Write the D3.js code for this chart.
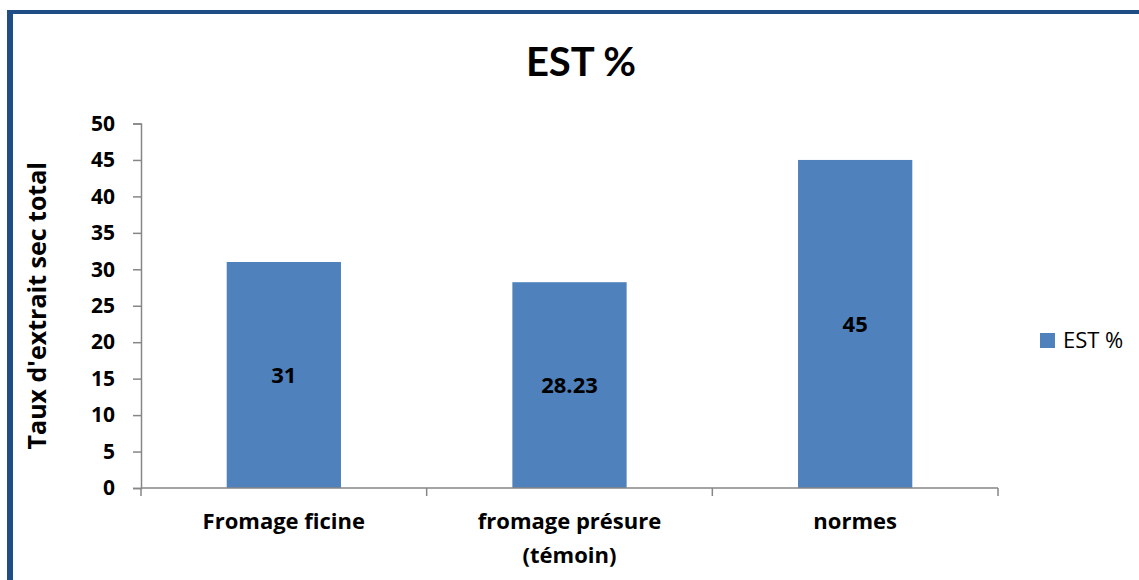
<!DOCTYPE html>
<html>
<head>
<meta charset="utf-8">
<script src="https://cdn.jsdelivr.net/npm/d3@7"></script>
<style>
  html, body { margin: 0; padding: 0; background: #fff; }
  svg { display: block; font-family: "Open Sans", "Liberation Sans", sans-serif; }
</style>
</head>
<body>
<svg id="chart" width="1139" height="580"></svg>
<script>
// Categories (each label may span two lines)
const categories = ["Fromage ficine", "fromage présure (témoin)", "normes"];
const categoryLines = [["Fromage ficine"], ["fromage présure", "(témoin)"], ["normes"]];
// EST % values
const estValues = [31, 28.23, 45];
const valueLabels = ["31", "28.23", "45"];
// Y-axis ticks
const yTicks = [0, 5, 10, 15, 20, 25, 30, 35, 40, 45, 50];

const seriesName = "EST %";
const chartTitle = "EST %";
const yTitle = "Taux d'extrait sec total";

const barColor = "#4F81BD";
const axisColor = "#868686";
const frameColor = "#1F4E87";
const labelFont = "'Open Sans', sans-serif";

const svg = d3.select("#chart");
const plot = { left: 141, right: 998, top: 123.5, bottom: 488 };

// Frame: thick left and top edges
svg.append("rect").attr("x", 7).attr("y", 10).attr("width", 6).attr("height", 570).attr("fill", frameColor);
svg.append("rect").attr("x", 7).attr("y", 10).attr("width", 1132).attr("height", 4).attr("fill", frameColor);

const x = d3.scaleBand().domain(categories).range([plot.left, plot.right]).paddingInner(0).paddingOuter(0);
const y = d3.scaleLinear().domain([0, 50]).range([plot.bottom, plot.top]);
const barW = x.bandwidth() * 0.4;

// Title
svg.append("text")
  .attr("x", 581).attr("y", 76)
  .attr("text-anchor", "middle")
  .attr("font-family", "Lato, sans-serif")
  .attr("font-size", 40).attr("font-weight", "bold").attr("fill", "#000")
  .text(chartTitle);

// Bars
svg.append("g").selectAll("rect").data(estValues).join("rect")
  .attr("x", (d, i) => x(categories[i]) + (x.bandwidth() - barW) / 2)
  .attr("y", d => y(d))
  .attr("width", barW)
  .attr("height", d => y(0) - y(d))
  .attr("fill", barColor);

// Value labels centred in bars
svg.append("g").selectAll("text").data(estValues).join("text")
  .attr("x", (d, i) => x(categories[i]) + x.bandwidth() / 2)
  .attr("y", d => (y(d) + y(0)) / 2)
  .attr("dy", "0.36em")
  .attr("text-anchor", "middle")
  .attr("font-family", labelFont)
  .attr("font-size", 22).attr("font-weight", "bold").attr("fill", "#000")
  .text((d, i) => valueLabels[i]);

// Y axis
const yAxis = svg.append("g")
  .attr("transform", `translate(${plot.left},0)`)
  .call(d3.axisLeft(y).tickValues(yTicks).tickSize(8).tickPadding(18).tickFormat(d3.format("d")));
yAxis.select(".domain").attr("stroke", axisColor).attr("stroke-width", 1.5);
yAxis.selectAll(".tick line").attr("stroke", axisColor).attr("stroke-width", 1.5);
yAxis.selectAll(".tick text")
  .attr("font-family", labelFont)
  .attr("font-size", 21).attr("font-weight", "bold").attr("fill", "#000");

// X axis with ticks at category boundaries
const xAxisG = svg.append("g").attr("transform", `translate(0,${plot.bottom})`);
xAxisG.append("line")
  .attr("x1", plot.left).attr("x2", plot.right)
  .attr("stroke", axisColor).attr("stroke-width", 1.5);
const bounds = categories.map(c => x(c)).concat([x(categories[categories.length - 1]) + x.bandwidth()]);
xAxisG.selectAll("line.tick").data(bounds).join("line")
  .attr("class", "tick")
  .attr("x1", d => d).attr("x2", d => d)
  .attr("y1", 0).attr("y2", 8)
  .attr("stroke", axisColor).attr("stroke-width", 1.5);

// Category labels
const catG = svg.append("g");
categoryLines.forEach((lines, i) => {
  const t = catG.append("text")
    .attr("x", x(categories[i]) + x.bandwidth() / 2)
    .attr("y", 529)
    .attr("text-anchor", "middle")
    .attr("font-family", labelFont)
    .attr("font-size", 22).attr("font-weight", "bold").attr("fill", "#000");
  lines.forEach((ln, j) => {
    t.append("tspan")
      .attr("x", x(categories[i]) + x.bandwidth() / 2)
      .attr("dy", j === 0 ? 0 : 34)
      .text(ln);
  });
});

// Y axis title
svg.append("text")
  .attr("transform", `translate(46,${(plot.top + plot.bottom) / 2}) rotate(-90)`)
  .attr("text-anchor", "middle")
  .attr("font-family", labelFont)
  .attr("font-size", 25).attr("font-weight", "bold").attr("fill", "#000")
  .text(yTitle);

// Legend
const leg = svg.append("g").attr("transform", "translate(1040,333)");
leg.append("rect").attr("width", 15).attr("height", 15).attr("fill", barColor);
leg.append("text")
  .attr("x", 23).attr("y", 15)
  .attr("font-family", labelFont)
  .attr("font-size", 22).attr("fill", "#000")
  .text(seriesName);
</script>
</body>
</html>
